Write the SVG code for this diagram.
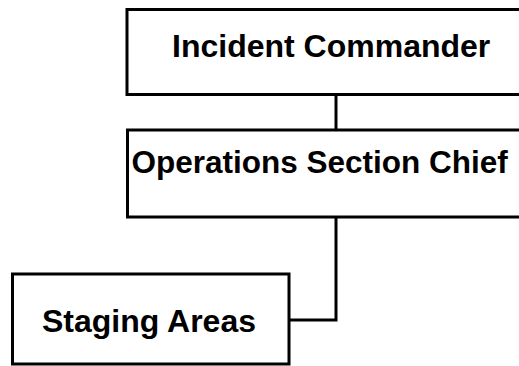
<svg xmlns="http://www.w3.org/2000/svg" width="519" height="366" viewBox="0 0 519 366">
<style>
.box{fill:#fff;stroke:#000;stroke-width:3}
.lbl{font-family:"Liberation Sans",Arial,sans-serif;font-weight:bold;fill:#000}
.conn{fill:none;stroke:#000;stroke-width:3}
</style>
<rect width="519" height="366" fill="#fff"/>
<g id="connectors">
<line class="conn" x1="336" y1="94" x2="336" y2="130"/>
<polyline class="conn" points="336,217 336,320 289,320"/>
</g>
<g id="incident-commander">
<rect class="box" x="127" y="9.5" width="420" height="85"/>
<text class="lbl" x="172" y="57" font-size="32">Incident Commander</text>
</g>
<g id="operations-section-chief">
<rect class="box" x="127.5" y="130" width="420" height="87"/>
<text class="lbl" x="131.5" y="173" font-size="31.5">Operations Section Chief</text>
</g>
<g id="staging-areas">
<rect class="box" x="12.5" y="274" width="276.5" height="90"/>
<text class="lbl" x="42" y="332" font-size="32">Staging Areas</text>
</g>
</svg>
